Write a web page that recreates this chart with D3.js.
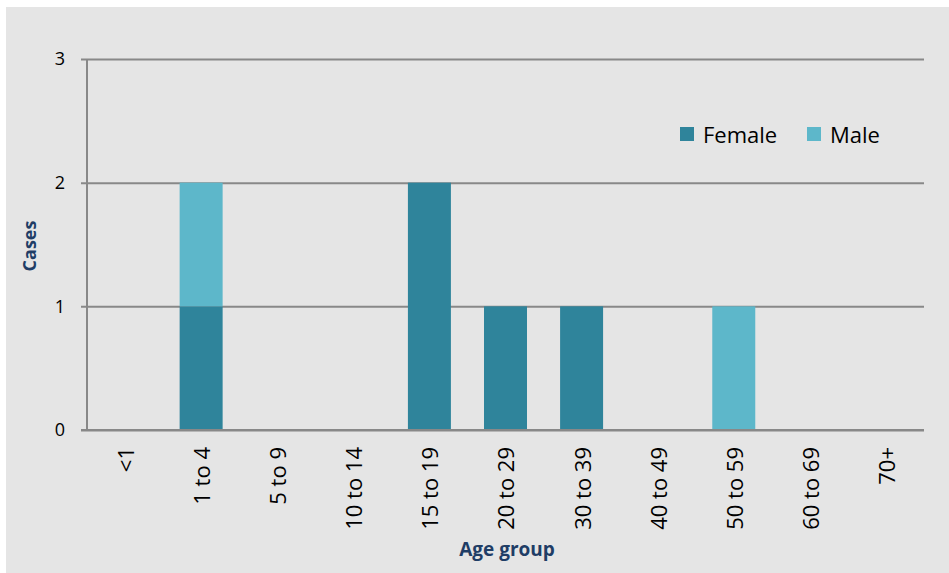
<!DOCTYPE html>
<html>
<head>
<meta charset="utf-8">
<script src="https://cdn.jsdelivr.net/npm/d3@7/dist/d3.min.js"></script>
<style>
  html, body { margin: 0; padding: 0; background: #ffffff; }
  svg { display: block; }
</style>
</head>
<body>
<svg id="chart" width="949" height="573"></svg>
<script>
// Age groups and case counts by sex
const ageGroups = ["<1", "1 to 4", "5 to 9", "10 to 14", "15 to 19", "20 to 29",
                   "30 to 39", "40 to 49", "50 to 59", "60 to 69", "70+"];
const female = [0, 1, 0, 0, 2, 1, 1, 0, 0, 0, 0];
const male   = [0, 1, 0, 0, 0, 0, 0, 0, 1, 0, 0];
const seriesNames = ["Female", "Male"];
const yTicks = [0, 1, 2, 3];

const colors = { Female: "#2f849b", Male: "#5db7ca" };
const fontFamily = "'Open Sans', 'Liberation Sans', Arial, sans-serif";

const svg = d3.select("#chart");
const W = 949, H = 573;
const plot = { left: 87, right: 924, top: 59, bottom: 430 };

// Panel background
svg.append("rect")
  .attr("x", 6).attr("y", 7)
  .attr("width", W - 6).attr("height", H - 7)
  .attr("fill", "#e5e5e5");

const rows = ageGroups.map((g, i) => ({ group: g, Female: female[i], Male: male[i] }));
const stacked = d3.stack().keys(seriesNames)(rows);

const x = d3.scaleBand()
  .domain(ageGroups)
  .range([plot.left, plot.right])
  .paddingInner(0.435)
  .paddingOuter(0.2175);

const y = d3.scaleLinear()
  .domain([0, 3])
  .range([plot.bottom, plot.top]);

// Horizontal gridlines with tick marks on the left
const yAxis = d3.axisLeft(y)
  .tickValues(yTicks)
  .tickFormat(d3.format("d"))
  .tickSize(plot.right - plot.left + 6)
  .tickPadding(16);

const gy = svg.append("g")
  .attr("transform", `translate(${plot.right},0)`)
  .call(yAxis);
gy.select(".domain").remove();
gy.selectAll(".tick line")
  .attr("stroke", "#888888")
  .attr("stroke-width", 2);
gy.selectAll(".tick text")
  .attr("font-family", fontFamily)
  .attr("font-size", 18)
  .attr("fill", "#000000");

// Stacked bars
svg.append("g")
  .selectAll("g")
  .data(stacked)
  .join("g")
  .attr("fill", d => colors[d.key])
  .selectAll("rect")
  .data(d => d.filter(s => s[1] - s[0] > 0))
  .join("rect")
  .attr("x", d => x(d.data.group))
  .attr("width", x.bandwidth())
  .attr("y", d => y(d[1]))
  .attr("height", d => y(d[0]) - y(d[1]));

// Vertical axis line
svg.append("line")
  .attr("x1", plot.left).attr("x2", plot.left)
  .attr("y1", plot.top).attr("y2", plot.bottom)
  .attr("stroke", "#888888")
  .attr("stroke-width", 2);

// Baseline
svg.append("line")
  .attr("x1", plot.left - 6).attr("x2", plot.right)
  .attr("y1", plot.bottom).attr("y2", plot.bottom)
  .attr("stroke", "#888888")
  .attr("stroke-width", 2);

// Category labels, rotated
const xAxis = d3.axisBottom(x).tickSize(0).tickPadding(0);
const gx = svg.append("g")
  .attr("transform", `translate(0,${plot.bottom})`)
  .call(xAxis);
gx.select(".domain").remove();
gx.selectAll(".tick text")
  .attr("font-family", fontFamily)
  .attr("font-size", 22)
  .attr("fill", "#000000")
  .attr("text-anchor", "end")
  .attr("dy", "0.36em")
  .attr("transform", "translate(1,17) rotate(-90)")
  .attr("x", 0)
  .attr("y", 0);

// Axis titles
svg.append("text")
  .attr("x", 507).attr("y", 556)
  .attr("text-anchor", "middle")
  .attr("font-family", fontFamily)
  .attr("font-weight", "bold")
  .attr("font-size", 19)
  .attr("fill", "#1f3d66")
  .text("Age group");

svg.append("text")
  .attr("transform", "translate(36,246) rotate(-90)")
  .attr("text-anchor", "middle")
  .attr("font-family", fontFamily)
  .attr("font-weight", "bold")
  .attr("font-size", 18)
  .attr("fill", "#1f3d66")
  .text("Cases");

// Legend
const legendX = [680, 807];
const legend = svg.append("g");
seriesNames.forEach((name, i) => {
  legend.append("rect")
    .attr("x", legendX[i]).attr("y", 127)
    .attr("width", 14).attr("height", 14)
    .attr("fill", colors[name]);
  legend.append("text")
    .attr("x", legendX[i] + 23).attr("y", 143)
    .attr("font-family", fontFamily)
    .attr("font-size", 22)
    .attr("fill", "#000000")
    .text(name);
});
</script>
</body>
</html>
